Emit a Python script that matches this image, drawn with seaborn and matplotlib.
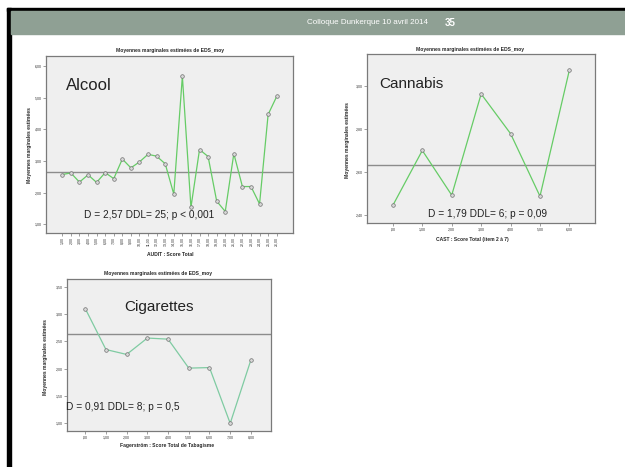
import matplotlib
matplotlib.use("Agg")
import matplotlib.pyplot as plt
from matplotlib.patches import Rectangle
import seaborn as sns
import numpy as np

# values (SPSS estimated marginal means of EDS_moy)
alcool_levels = ["1,00", "2,00", "3,00", "4,00", "5,00", "6,00", "7,00", "8,00", "9,00",
                 "10,00", "11,00", "12,00", "13,00", "14,00", "15,00", "16,00", "17,00",
                 "18,00", "19,00", "20,00", "21,00", "22,00", "23,00", "24,00", "25,00", "26,00"]
alcool_means = [2.57, 2.62, 2.33, 2.56, 2.32, 2.63, 2.44, 3.06, 2.78, 2.97, 3.21, 3.15, 2.91,
                1.95, 5.68, 1.53, 3.36, 3.14, 1.73, 1.40, 3.23, 2.19, 2.19, 1.64, 4.47, 5.04]
alcool_ref = 2.65

cannabis_levels = [",00", "1,00", "2,00", "3,00", "4,00", "5,00", "6,00"]
cannabis_means = [2.446, 2.70, 2.493, 2.962, 2.778, 2.488, 3.073]
cannabis_ref = 2.631

cig_levels = [",00", "1,00", "2,00", "3,00", "4,00", "5,00", "6,00", "7,00", "8,00"]
cig_means = [3.10, 2.35, 2.26, 2.56, 2.54, 2.01, 2.02, 1.00, 2.16]
cig_ref = 2.64

W, H = 625, 467
sns.set_style("white")
plt.rcParams['font.family'] = ['Liberation Sans', 'DejaVu Sans']

fig = plt.figure(figsize=(W / 100, H / 100), dpi=100)
fig.patch.set_facecolor("white")


def px_axes(left, top, right, bottom):
    return fig.add_axes([left / W, 1 - bottom / H, (right - left) / W, (bottom - top) / H])


def px_text(x, y, s, **kw):
    fig.text(x / W, 1 - y / H, s, **kw)


# slide frame and header band
fig.add_artist(Rectangle((7 / W, 0), 4 / W, 1 - 8 / H, transform=fig.transFigure,
                         color="black", zorder=0))
fig.add_artist(Rectangle((7 / W, 1 - 11 / H), 1, 3 / H, transform=fig.transFigure,
                         color="black", zorder=0))
fig.add_artist(Rectangle((11 / W, 1 - 34 / H), 1, 23 / H, transform=fig.transFigure,
                         color="#8fa094", zorder=0))
px_text(367, 22.5, "Colloque Dunkerque 10 avril 2014", color="white", fontsize=5.8,
        ha="center", va="center")
px_text(450, 22.5, "35", color="white", fontsize=7, fontweight="bold",
        ha="center", va="center")


def profile(ax, levels, means, ref, color, ylim, yticks, pad, rot=0):
    sns.lineplot(x=levels, y=means, sort=False, ax=ax, color=color, linewidth=0.9,
                 marker="o", markersize=2.6, markerfacecolor="#d8d8d8",
                 markeredgecolor="#707070", markeredgewidth=0.5)
    ax.axhline(ref, color="#8c8c8c", linewidth=1.0, zorder=1)
    ax.set_facecolor("#efefef")
    for s in ax.spines.values():
        s.set_color("#7a7a7a")
        s.set_linewidth(0.9)
    ax.set_xlim(-pad[0], len(levels) - 1 + pad[1])
    ax.set_ylim(*ylim)
    ax.set_yticks(yticks)
    ax.set_yticklabels([f"{t:.2f}".replace(".", ",") for t in yticks])
    ax.set_xticks(range(len(levels)))
    ax.set_xticklabels(levels, rotation=rot)
    ax.tick_params(axis="both", labelsize=2.6, length=2, width=0.4, pad=1,
                   colors="#555555", labelcolor="#333333", direction="out",
                   bottom=True, left=True)
    ax.set_xlabel("")
    ax.set_ylabel("")
    ax.grid(False)


title = "Moyennes marginales estimées de EDS_moy"
ylab = "Moyennes marginales estimées"

# Alcool
ax1 = px_axes(46, 56, 293, 233)
profile(ax1, alcool_levels, alcool_means, alcool_ref, "#66cc66", (0.72, 6.32),
        [1, 2, 3, 4, 5, 6], (1.9, 1.9), rot=90)
px_text(170, 50.5, title, fontsize=3.6, fontweight="bold", ha="center", va="center")
px_text(170, 255, "AUDIT : Score Total", fontsize=3.6, fontweight="bold", ha="center", va="center")
px_text(30, 145, ylab, fontsize=3.6, fontweight="bold", ha="center", va="center", rotation=90)
px_text(66, 85, "Alcool", fontsize=12, ha="left", va="center", color="#222222")
px_text(84, 215, "D = 2,57 DDL= 25; p < 0,001", fontsize=7.3, ha="left", va="center", color="#222222")

# Cannabis
ax2 = px_axes(367, 54, 595, 223)
profile(ax2, cannabis_levels, cannabis_means, cannabis_ref, "#66cc66", (2.364, 3.147),
        [2.4, 2.6, 2.8, 3.0], (0.88, 0.87))
px_text(470, 49.5, title, fontsize=3.6, fontweight="bold", ha="center", va="center")
px_text(472, 240, "CAST : Score Total (item 2 à 7)", fontsize=3.6, fontweight="bold", ha="center", va="center")
px_text(347, 140, ylab, fontsize=3.6, fontweight="bold", ha="center", va="center", rotation=90)
px_text(379, 84, "Cannabis", fontsize=11, ha="left", va="center", color="#222222")
px_text(428, 214, "D = 1,79 DDL= 6; p = 0,09", fontsize=7.3, ha="left", va="center", color="#222222")

# Cigarettes
ax3 = px_axes(67, 279, 271, 431)
profile(ax3, cig_levels, cig_means, cig_ref, "#7fcba2", (0.86, 3.64),
        [1.0, 1.5, 2.0, 2.5, 3.0, 3.5], (0.88, 0.97))
px_text(158, 274, title, fontsize=3.6, fontweight="bold", ha="center", va="center")
px_text(167, 446, "Fagerström : Score Total de Tabagisme", fontsize=3.6, fontweight="bold", ha="center", va="center")
px_text(46, 357, ylab, fontsize=3.6, fontweight="bold", ha="center", va="center", rotation=90)
px_text(124, 307, "Cigarettes", fontsize=11, ha="left", va="center", color="#222222")
px_text(66, 407, "D = 0,91 DDL= 8; p = 0,5", fontsize=7.3, ha="left", va="center", color="#222222")

fig.savefig("out.png", dpi=100)
